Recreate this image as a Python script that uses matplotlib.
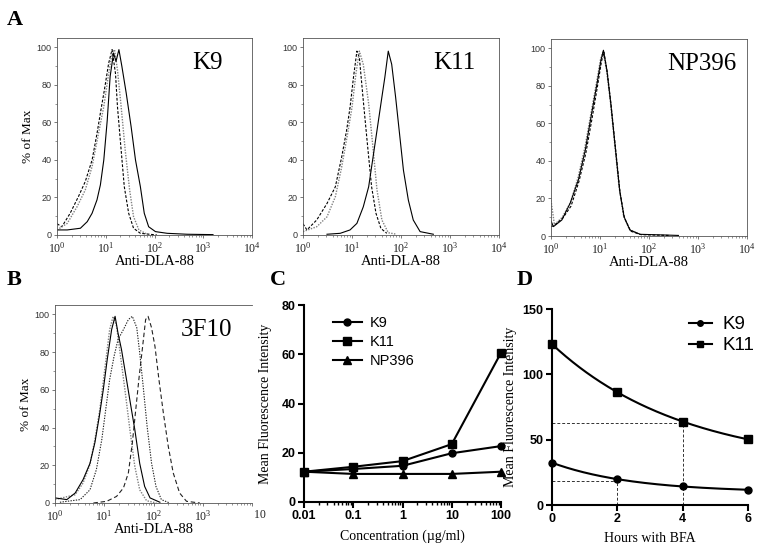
import numpy as np
import matplotlib
matplotlib.use("Agg")
import matplotlib.pyplot as plt
from matplotlib.ticker import FixedFormatter, LogFormatterMathtext, LogLocator, MultipleLocator, NullFormatter

plt.rcParams["mathtext.fontset"] = "custom"
plt.rcParams["mathtext.rm"] = "Liberation Serif"
plt.rcParams["mathtext.it"] = "Liberation Serif:italic"
plt.rcParams["mathtext.bf"] = "Liberation Serif:bold"

SERIF = "Liberation Serif"
SANS = "Liberation Sans"

# ---- panel A: histograms (log10 intensity, % of max) ----
k9_solid_log = [0.0, 0.21, 0.48, 0.62, 0.72, 0.82, 0.89, 0.96, 1.03, 1.09, 1.16, 1.21, 1.27, 1.33, 1.42, 1.52, 1.61, 1.71, 1.79, 1.88, 2.02, 2.26, 2.67, 3.2]
k9_solid_pct = [2.7, 2.7, 3.6, 7.1, 11.6, 18.7, 26.7, 40, 61, 84.5, 97, 92.5, 98.8, 90, 75.6, 57.8, 40, 25.8, 11.6, 4.4, 1.8, 0.9, 0.4, 0.2]
k9_dash_log = [0.0, 0.1, 0.27, 0.44, 0.58, 0.72, 0.82, 0.89, 0.97, 1.06, 1.13, 1.2, 1.24, 1.31, 1.38, 1.47, 1.57, 1.71, 2.05]
k9_dash_pct = [6, 4.4, 11.6, 20.5, 28.5, 40, 54, 65, 77, 91.6, 98.8, 86, 68.5, 47, 25.8, 11.6, 3.6, 0.9, 0]
k9_dot_log = [0.0, 0.21, 0.41, 0.58, 0.72, 0.85, 0.96, 1.04, 1.13, 1.18, 1.24, 1.31, 1.4, 1.49, 1.57, 1.68, 1.85]
k9_dot_pct = [2.7, 6.2, 15, 24, 36.5, 54, 68.5, 82.7, 97, 98.8, 88, 70, 45, 24, 9.8, 2.7, 0.4]

k11_dash_log = [0.0, 0.08, 0.28, 0.49, 0.66, 0.79, 0.89, 0.96, 1.03, 1.1, 1.15, 1.23, 1.32, 1.4, 1.49, 1.59, 1.71]
k11_dash_pct = [6, 2.7, 8, 16.8, 25.7, 41.6, 55.8, 68, 84, 98, 94.7, 71.7, 47, 25.7, 11.5, 3.5, 0.9]
k11_dot_log = [0.0, 0.28, 0.49, 0.66, 0.79, 0.91, 1.0, 1.08, 1.15, 1.23, 1.34, 1.42, 1.51, 1.61, 1.74, 1.91]
k11_dot_pct = [1.8, 4.4, 9.7, 20.4, 36.3, 54, 68, 86, 98, 91, 70, 48.7, 24, 8, 1.2, 0.4]
k11_solid_log = [0.49, 0.76, 0.96, 1.1, 1.23, 1.34, 1.42, 1.52, 1.61, 1.67, 1.74, 1.81, 1.89, 1.97, 2.05, 2.15, 2.25, 2.39, 2.66]
k11_solid_pct = [0.4, 0.9, 2.7, 6.2, 15, 25.7, 39.8, 57.5, 73.5, 84, 98, 91, 73.5, 54, 34.5, 18.6, 8, 1.8, 0.4]

np_solid_log = [0.0, 0.05, 0.22, 0.39, 0.56, 0.7, 0.83, 0.94, 1.02, 1.07, 1.14, 1.22, 1.31, 1.4, 1.49, 1.61, 1.82, 2.36, 2.6]
np_solid_pct = [8, 5, 8.5, 17.4, 30, 45.8, 65.4, 81.3, 93.8, 99, 88.5, 70.7, 47.6, 24.5, 10.3, 3.2, 0.9, 0.5, 0.3]
np_dash_log = [0.0, 0.06, 0.24, 0.41, 0.57, 0.71, 0.84, 0.95, 1.03, 1.08, 1.15, 1.23, 1.32, 1.41, 1.5, 1.63, 1.84, 2.4]
np_dash_pct = [5, 5.5, 9.5, 16, 29, 44, 63, 80, 93, 98, 87, 69, 46, 23, 9.5, 2.5, 0.7, 0.3]
np_dot_log = [0.0, 0.07, 0.23, 0.4, 0.55, 0.69, 0.82, 0.93, 1.01, 1.06, 1.13, 1.21, 1.3, 1.39, 1.48, 1.6, 1.8]
np_dot_pct = [19, 6, 10, 18, 31, 47, 66, 82, 94, 98, 89, 72, 49, 26, 11, 3.5, 0.9]

# ---- panel B: 3F10 histograms ----
b_solid_log = [0.0, 0.24, 0.41, 0.57, 0.71, 0.81, 0.9, 0.98, 1.06, 1.15, 1.22, 1.28, 1.35, 1.44, 1.53, 1.62, 1.72, 1.82, 1.93, 2.13]
b_solid_pct = [2.7, 1.8, 5.3, 12.4, 21, 32, 46, 60, 76, 92, 99, 90, 81.4, 67.3, 53, 39, 21, 8.8, 2.7, 0.4]
b_grey_log = [0.0, 0.41, 0.57, 0.71, 0.81, 0.91, 1.01, 1.11, 1.18, 1.25, 1.33, 1.42, 1.52, 1.62, 1.72, 1.86, 2.06]
b_grey_pct = [1.8, 4.4, 10.6, 20.4, 33.6, 49.6, 70.8, 92, 99, 93.8, 77.9, 60, 39, 19.5, 7, 1.2, 0]
b_fine_log = [0.1, 0.51, 0.71, 0.84, 0.95, 1.03, 1.11, 1.2, 1.28, 1.39, 1.49, 1.57, 1.66, 1.72, 1.79, 1.87, 1.96, 2.05, 2.16, 2.33]
b_fine_pct = [0.4, 1.8, 7, 17.7, 33.6, 49.6, 65.5, 77.9, 86.7, 92, 97.3, 99, 93, 79.6, 62, 40.7, 21.2, 8.8, 1.8, 0]
b_long_log = [0.78, 1.05, 1.25, 1.39, 1.49, 1.57, 1.64, 1.71, 1.78, 1.84, 1.89, 1.96, 2.03, 2.11, 2.2, 2.3, 2.4, 2.53, 2.67, 2.94]
b_long_pct = [0, 0.9, 3.5, 8, 16, 31.8, 49.6, 67.3, 83.2, 97.3, 99, 93, 83, 65.5, 47.8, 30, 16, 5.3, 0.9, 0]

# ---- panel C: MFI vs peptide concentration ----
conc = [0.01, 0.1, 1, 10, 100]
mfi_k9 = [12.3, 13.4, 14.7, 19.8, 22.7]
mfi_k11 = [12.3, 14.3, 16.6, 23.5, 60.6]
mfi_np396 = [12.3, 11.4, 11.4, 11.4, 12.3]

# ---- panel D: MFI vs hours with BFA ----
hours = [0, 2, 4, 6]
bfa_k9 = [32.4, 19.6, 14.5, 11.5]
bfa_k11 = [123, 86.7, 63.3, 50.5]
half_k11 = (4, 62.8)
half_k9 = (2, 18.6)


def fig_rect(left, top, right, bottom):
    W, H = 764.0, 558.0
    return [left / W, 1 - bottom / H, (right - left) / W, (bottom - top) / H]


def hist_axes(fig, rect, label, cut_right=False):
    ax = fig.add_axes(rect)
    ax.set_xscale("log")
    ax.set_xlim(1, 1e4)
    ax.set_ylim(0, 105)
    ax.set_yticks([0, 20, 40, 60, 80, 100])
    ax.yaxis.set_minor_locator(MultipleLocator(10))
    ax.xaxis.set_major_locator(LogLocator(base=10, numticks=10))
    ax.xaxis.set_minor_locator(LogLocator(base=10, subs=np.arange(2, 10), numticks=50))
    ax.xaxis.set_minor_formatter(NullFormatter())
    if cut_right:
        # the right edge of this panel is cropped in the original figure
        ax.spines["right"].set_visible(False)
        ax.set_xticks([1, 10, 100, 1000, 10000])
        ax.xaxis.set_major_formatter(FixedFormatter(
            [r"$\mathdefault{10^{0}}$", r"$\mathdefault{10^{1}}$", r"$\mathdefault{10^{2}}$",
             r"$\mathdefault{10^{3}}$", "     10"]))
    else:
        ax.xaxis.set_major_formatter(LogFormatterMathtext())
    ax.tick_params(which="major", direction="out", length=2.5, width=0.5, color="#444", pad=1.5)
    ax.tick_params(which="minor", direction="out", length=1.5, width=0.4, color="#444")
    ax.tick_params(axis="y", labelsize=6.5, labelcolor="#333")
    ax.tick_params(axis="x", labelsize=8.5, labelcolor="#222")
    for t in ax.get_xticklabels():
        t.set_fontfamily(SERIF)
    for t in ax.get_yticklabels():
        t.set_fontfamily(SANS)
    for s in ax.spines.values():
        s.set_linewidth(0.6)
        s.set_color("#555")
    ax.set_xlabel("Anti-DLA-88", fontfamily=SERIF, fontsize=10.5, labelpad=0)
    ax.text(0.77, 0.875, label, transform=ax.transAxes, ha="center", va="center",
            fontfamily=SERIF, fontsize=18)
    return ax


def curve(ax, logs, pct, **kw):
    ax.plot(10 ** np.array(logs), pct, **kw)


SOLID = dict(color="black", lw=0.8)
DASH = dict(color="black", lw=0.8, dashes=(2.5, 1.5))
DOT = dict(color="#808080", lw=1.0, dashes=(1, 1))

fig = plt.figure(figsize=(7.64, 5.58), dpi=100)

a1 = hist_axes(fig, fig_rect(57, 38, 252, 235), "K9")
a1.set_ylabel("% of Max", fontfamily=SERIF, fontsize=9.5, labelpad=2)
curve(a1, k9_dash_log, k9_dash_pct, **DASH)
curve(a1, k9_dot_log, k9_dot_pct, **DOT)
curve(a1, k9_solid_log, k9_solid_pct, **SOLID)

a2 = hist_axes(fig, fig_rect(303, 38, 499, 235), "K11")
curve(a2, k11_dash_log, k11_dash_pct, **DASH)
curve(a2, k11_dot_log, k11_dot_pct, **DOT)
curve(a2, k11_solid_log, k11_solid_pct, **SOLID)

a3 = hist_axes(fig, fig_rect(551, 39, 747, 236), "NP396")
curve(a3, np_dot_log, np_dot_pct, **DOT)
curve(a3, np_dash_log, np_dash_pct, **DASH)
curve(a3, np_solid_log, np_solid_pct, **SOLID)

b = hist_axes(fig, fig_rect(55, 305, 252, 503), "3F10", cut_right=True)
b.set_ylabel("% of Max", fontfamily=SERIF, fontsize=9.5, labelpad=2)
curve(b, b_grey_log, b_grey_pct, **DOT)
curve(b, b_solid_log, b_solid_pct, **SOLID)
curve(b, b_fine_log, b_fine_pct, color="#222", lw=0.8, dashes=(1.2, 1.2))
curve(b, b_long_log, b_long_pct, color="#222", lw=0.8, dashes=(4, 2.5))

# ---- panel C ----
c = fig.add_axes(fig_rect(304, 305, 501, 502))
c.set_xscale("log")
c.plot(conc, mfi_k9, "-o", color="black", lw=1.5, ms=5, label="K9", clip_on=False, zorder=3)
c.plot(conc, mfi_k11, "-s", color="black", lw=1.5, ms=5.5, label="K11", clip_on=False, zorder=3)
c.plot(conc, mfi_np396, "-^", color="black", lw=1.5, ms=5.5, label="NP396", clip_on=False, zorder=3)
c.set_xlim(0.01, 100)
c.set_ylim(0, 80)
c.set_yticks([0, 20, 40, 60, 80])
c.set_xticks(conc)
c.set_xticklabels(["0.01", "0.1", "1", "10", "100"])
c.xaxis.set_minor_locator(LogLocator(base=10, subs=np.arange(2, 10), numticks=50))
c.xaxis.set_minor_formatter(NullFormatter())
c.set_xlabel("Concentration (\u00b5g/ml)", fontfamily=SERIF, fontsize=10, labelpad=5)
c.set_ylabel("Mean Fluorescence Intensity", fontfamily=SERIF, fontsize=10, labelpad=7)
c.legend(loc="upper left", bbox_to_anchor=(0.08, 1.01), frameon=False, prop={"family": SANS, "size": 10.5},
         handlelength=2.0, handletextpad=0.5, labelspacing=0.35)

# ---- panel D ----
d = fig.add_axes(fig_rect(552, 309, 748, 505))
t_fine = np.linspace(0, 6, 200)
for vals, mk, ms, lab in [(bfa_k9, "o", 5, "K9"), (bfa_k11, "s", 5.5, "K11")]:
    y = np.array(vals, dtype=float)
    t = np.array(hours, dtype=float)
    best = None
    for k in np.linspace(0.02, 2.0, 2000):
        A = np.column_stack([np.exp(-k * t), np.ones_like(t)])
        coef, *_ = np.linalg.lstsq(A, y, rcond=None)
        err = np.sum((A @ coef - y) ** 2)
        if best is None or err < best[0]:
            best = (err, k, coef)
    _, k, coef = best
    d.plot(t_fine, coef[0] * np.exp(-k * t_fine) + coef[1], color="black", lw=1.5, zorder=2)
    d.plot(hours, vals, mk, color="black", ms=ms, clip_on=False, zorder=3)
    d.plot([], [], "-" + mk, color="black", lw=1.5, ms=ms - 1, label=lab)
for hx, hy in [half_k11, half_k9]:
    d.plot([0, hx], [hy, hy], color="#333", lw=0.7, dashes=(3, 2))
    d.plot([hx, hx], [0, hy], color="#333", lw=0.7, dashes=(3, 2))
d.set_xlim(0, 6)
d.set_ylim(0, 150)
d.set_xticks([0, 2, 4, 6])
d.set_yticks([0, 50, 100, 150])
d.set_xlabel("Hours with BFA", fontfamily=SERIF, fontsize=10, labelpad=5)
d.set_ylabel("Mean Fluorescence Intensity", fontfamily=SERIF, fontsize=10, labelpad=4)
d.legend(loc="upper right", bbox_to_anchor=(1.12, 1.05), frameon=False, prop={"family": SANS, "size": 13.5},
         handlelength=1.2, handletextpad=0.6, labelspacing=0.2)

for ax in (c, d):
    for s in ("top", "right"):
        ax.spines[s].set_visible(False)
    for s in ("left", "bottom"):
        ax.spines[s].set_linewidth(1.5)
    ax.tick_params(which="major", direction="out", length=4, width=1.5, labelsize=9, pad=2)
    ax.tick_params(which="minor", direction="out", length=2.5, width=1.0)
    for t in ax.get_xticklabels() + ax.get_yticklabels():
        t.set_fontfamily(SANS)
        t.set_fontweight("bold")

# panel letters
for letter, x, y in [("A", 7, 10), ("B", 7, 270), ("C", 270, 270), ("D", 517, 270)]:
    fig.text(x / 764, 1 - y / 558, letter, ha="left", va="top", fontfamily=SERIF,
             fontweight="bold", fontsize=16)

fig.savefig("out.png", dpi=100)
